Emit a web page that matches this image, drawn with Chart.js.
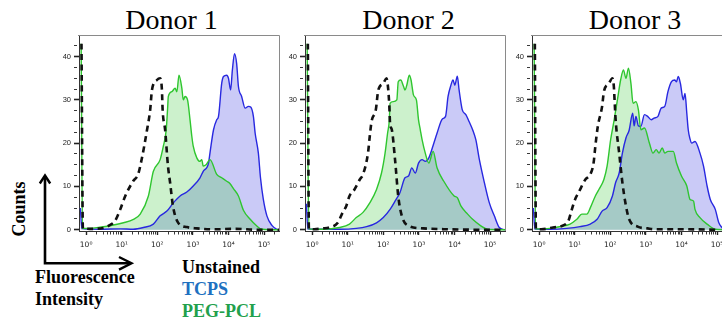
<!DOCTYPE html>
<html>
<head>
<meta charset="utf-8">
<script src="https://cdn.jsdelivr.net/npm/chart.js@4.4.1/dist/chart.umd.min.js"></script>
<style>
  html, body { margin: 0; padding: 0; background: #fff; }
  #wrap { position: relative; width: 722px; height: 321px; overflow: hidden; background: #fff; }
  canvas { position: absolute; }
  .title { position: absolute; top: 6px; width: 200px; text-align: center;
           font: 28px "Liberation Serif", serif; line-height: 28px; color: #000; white-space: nowrap; }
  .lbl { position: absolute; font: bold 18px "Liberation Serif", serif; line-height: 22px; white-space: nowrap; }
</style>
</head>
<body>
<div id="wrap">
  <svg style="position:absolute;left:0;top:0" width="722" height="321">
    <path d="M45 176 V263.3 H131" stroke="#000" stroke-width="2.6" fill="none"/>
    <path d="M39.8 183.5 L45 175.5 L50.2 183.5" stroke="#000" stroke-width="2.4" fill="none"/>
    <path d="M119 257 L131.5 263.3 L119 269.6" stroke="#000" stroke-width="2.4" fill="none"/>
  </svg>

  <div class="title" style="left:71.5px">Donor 1</div>
  <div class="title" style="left:308.5px">Donor 2</div>
  <div class="title" style="left:535px">Donor 3</div>

  <div class="lbl" style="left:-21px;top:198px;width:80px;height:22px;text-align:center;transform:rotate(-90deg);">Counts</div>
  <div class="lbl" style="left:35px;top:266px;">Fluorescence<br>Intensity</div>
  <div class="lbl" style="left:182px;top:256px;">
    <span style="color:#000">Unstained</span><br>
    <span style="color:#2070c0">TCPS</span><br>
    <span style="color:#22a04c">PEG-PCL</span>
  </div>

  <canvas id="donor1" width="234" height="230" style="left:49px;top:25px"></canvas>
  <canvas id="donor2" width="234" height="230" style="left:275px;top:25px"></canvas>
  <canvas id="donor3" width="234" height="230" style="left:502px;top:25px"></canvas>
</div>

<script>
// Axis labels: fluorescence in decades (log10 of intensity), counts per bin
const decadeTicks = [0, 1, 2, 3, 4, 5];
const decadeLabels = ['10⁰', '10¹', '10²', '10³', '10⁴', '10⁵'];
const countTicks = [0, 10, 20, 30, 40];

// Donor 1 histograms (x = log10 intensity, y = counts)
const donor1UnstainedX = [-0.13, -0.09, 0.11, 0.48, 0.65, 0.81, 0.96, 1.10, 1.32, 1.46, 1.56, 1.71, 1.80, 1.85, 1.99, 2.08, 2.13, 2.15, 2.22, 2.30, 2.36, 2.44, 2.58, 2.83, 3.11, 3.6, 4.2, 4.8, 5.42];
const donor1UnstainedY = [43, 0.3, 0.2, 0.4, 1, 2, 4.7, 7.8, 11.2, 12.8, 16.2, 23, 27.7, 32.3, 34.6, 35, 32.3, 27.7, 23.1, 14.7, 10.9, 5.5, 1.7, 0.6, 0.3, 0.1, 0.2, 0, 0];
const donor1TcpsX = [-0.16, -0.12, 0.39, 0.96, 1.32, 1.61, 1.89, 2.08, 2.27, 2.45, 2.64, 2.83, 3.01, 3.20, 3.29, 3.44, 3.48, 3.58, 3.67, 3.72, 3.81, 3.86, 3.95, 4.00, 4.06, 4.11, 4.17, 4.23, 4.28, 4.37, 4.47, 4.56, 4.63, 4.70, 4.75, 4.84, 4.90, 4.98, 5.08, 5.22, 5.36, 5.42];
const donor1TcpsY = [5, 0.3, 0.1, 0.2, 0.1, 0.5, 1.3, 3.2, 4.3, 6.2, 7.8, 8.7, 10.1, 12, 13.5, 15.4, 17.7, 23.1, 25.4, 26.2, 33.8, 35.4, 35.7, 35, 32.3, 36.9, 40.7, 38.4, 33.1, 30.8, 28.1, 28.5, 28.3, 26.2, 22.3, 17.7, 12, 7, 3.2, 1, 0.1, 0];
const donor1PegX = [-0.14, -0.1, 0.11, 0.39, 0.67, 1.05, 1.33, 1.52, 1.75, 1.89, 2.08, 2.17, 2.25, 2.29, 2.31, 2.41, 2.50, 2.55, 2.61, 2.69, 2.73, 2.78, 2.85, 2.92, 2.97, 3.01, 3.11, 3.20, 3.25, 3.29, 3.37, 3.48, 3.67, 3.81, 3.95, 4.04, 4.14, 4.28, 4.42, 4.61, 4.79, 4.94, 5.17, 5.42];
const donor1PegY = [43, 0.3, 0.3, 0.6, 0.9, 1.6, 2.4, 3.6, 7.8, 13.5, 16.2, 19.3, 23, 28, 30.8, 31.9, 32.7, 31.9, 35.7, 32.7, 30, 30.8, 30, 25.4, 21.6, 19.3, 16.6, 15.8, 16.2, 14.7, 15, 16.2, 12.8, 12, 11.2, 10.7, 9.5, 7.8, 4.5, 2.4, 0.9, 0.1, 0, 0];

// Donor 2 histograms
const donor2UnstainedX = [-0.12, -0.09, 0.06, 0.29, 0.48, 0.72, 0.86, 0.96, 1.05, 1.19, 1.34, 1.43, 1.57, 1.62, 1.67, 1.79, 1.86, 2.00, 2.09, 2.14, 2.17, 2.19, 2.24, 2.33, 2.42, 2.52, 2.71, 3.13, 3.8, 4.6, 5.42];
const donor2UnstainedY = [43, 0.2, 0.1, 0.3, 0.5, 1.6, 4, 5.5, 7.8, 9.3, 11.6, 12.8, 17.7, 21.6, 25, 27.7, 32.3, 33.8, 35, 32.3, 28.5, 24.6, 23.1, 16.2, 7.8, 3.2, 0.9, 0.3, 0.1, 0, 0];
const donor2TcpsX = [-0.16, -0.12, 0.77, 1.24, 1.53, 1.81, 2.00, 2.19, 2.33, 2.47, 2.61, 2.71, 2.80, 2.90, 2.99, 3.09, 3.18, 3.28, 3.42, 3.51, 3.66, 3.75, 3.82, 3.89, 3.96, 4.01, 4.08, 4.13, 4.22, 4.32, 4.41, 4.51, 4.60, 4.70, 4.84, 4.98, 5.12, 5.26, 5.41];
const donor2TcpsY = [6, 0.2, 0.1, 0.3, 0.7, 1.6, 2.8, 4.7, 6.6, 8.6, 12, 12.4, 14.3, 13.1, 15.4, 16.2, 15.8, 16.6, 20, 22.3, 25.6, 26.2, 30.8, 33.1, 34.6, 33.4, 35.5, 32.3, 27.7, 26.6, 25, 23.1, 20.8, 16.2, 10.9, 6.2, 3.2, 0.5, 0];
const donor2PegX = [-0.14, -0.09, 0.29, 0.77, 1.05, 1.24, 1.43, 1.62, 1.81, 1.95, 2.05, 2.12, 2.17, 2.19, 2.28, 2.38, 2.42, 2.49, 2.57, 2.61, 2.66, 2.73, 2.78, 2.85, 2.93, 2.99, 3.04, 3.09, 3.18, 3.28, 3.40, 3.51, 3.70, 3.99, 4.08, 4.18, 4.37, 4.51, 4.74, 4.93, 5.43];
const donor2PegY = [43, 0.2, 0.1, 0.5, 1.3, 2.8, 4, 6.2, 9.3, 13.1, 17.7, 22.3, 25.4, 29.2, 29.6, 30, 34.2, 34.6, 33.1, 32.3, 33.4, 35.7, 34.6, 31.1, 30, 25.4, 23.1, 20.8, 17.7, 15.4, 18.1, 14.3, 11.2, 7.8, 7.4, 5.5, 3.6, 2.4, 0.9, 0.1, 0];

// Donor 3 histograms
const donor3UnstainedX = [-0.12, -0.09, 0.06, 0.39, 0.68, 0.82, 0.92, 1.01, 1.11, 1.30, 1.44, 1.53, 1.58, 1.65, 1.77, 1.82, 1.96, 2.06, 2.10, 2.12, 2.15, 2.25, 2.34, 2.44, 2.53, 2.77, 3.05, 3.24, 4.0, 5.0];
const donor3UnstainedY = [43, 0.2, 0.1, 0.5, 1, 2, 4.7, 7, 8.6, 11.6, 12.8, 15.4, 19.3, 23.9, 28.5, 31.9, 33.8, 35, 33.1, 30, 25.4, 17.7, 10.9, 5.5, 2.4, 0.7, 0.3, 0.1, 0.1, 0];
const donor3TcpsX = [-0.16, -0.12, 0.30, 0.77, 1.15, 1.44, 1.63, 1.77, 1.91, 2.06, 2.15, 2.25, 2.34, 2.44, 2.53, 2.63, 2.67, 2.72, 2.79, 2.86, 2.96, 3.05, 3.15, 3.23, 3.34, 3.43, 3.53, 3.62, 3.72, 3.81, 3.86, 3.91, 3.97, 4.05, 4.10, 4.15, 4.19, 4.24, 4.29, 4.38, 4.52, 4.62, 4.72, 4.81, 4.95, 5.05, 5.14, 5.19, 5.43];
const donor3TcpsY = [5, 0.2, 0.1, 0.3, 0.7, 1.3, 2.4, 4.3, 5.1, 7.8, 10.9, 13.1, 17.7, 21.2, 23, 26.9, 24, 26.2, 24, 23.9, 26.6, 26.2, 25.4, 25.8, 26.2, 28.1, 28.5, 31.9, 34.2, 34.6, 34.2, 35.4, 33.8, 30, 31.5, 26.9, 23.1, 21, 20, 20.4, 17.7, 14.7, 10.1, 7, 4.7, 1.6, 0.5, 0.1, 0];
const donor3PegX = [-0.14, -0.1, 0.30, 0.58, 0.87, 1.06, 1.20, 1.34, 1.44, 1.58, 1.68, 1.82, 1.91, 2.01, 2.10, 2.20, 2.29, 2.37, 2.44, 2.51, 2.58, 2.64, 2.72, 2.79, 2.86, 2.96, 3.10, 3.20, 3.29, 3.37, 3.46, 3.53, 3.62, 3.77, 3.86, 4.00, 4.15, 4.24, 4.34, 4.38, 4.52, 4.72, 4.95, 5.42];
const donor3PegY = [43, 0.2, 0.3, 0.7, 1.3, 2.4, 3.6, 3.6, 5.1, 7.8, 9.3, 11.6, 14.7, 20.8, 25, 30, 34.6, 36.9, 35, 37.3, 33.8, 29.2, 29.6, 27.7, 23.1, 23.5, 20, 17.7, 18.5, 17.7, 18.9, 17.7, 18.1, 18.1, 15.4, 12.4, 10.1, 7, 6.6, 4.7, 2.8, 1.3, 0.1, 0];

const X_MIN = -0.2, X_MAX = 5.42;
const Y_MIN = -0.3, Y_MAX = 45;

// Tick marks: decades plus 2..9 sub-decades; counts every 2.5
const xTickValues = [];
for (let n = 0; n <= 5; n++) {
  for (let k = 1; k <= 9; k++) {
    const v = n + Math.log10(k);
    if (v <= X_MAX) xTickValues.push(v);
  }
}
const yTickValues = [];
for (let v = 0; v <= 42.5; v += 2.5) yTickValues.push(v);

const isDecade = v => Math.abs(v - Math.round(v)) < 1e-9;
const zip = (xs, ys) => xs.map((x, i) => ({ x, y: ys[i] }));

// Grey box on the top and right of each plot area
const framePlugin = {
  id: 'frame',
  afterDatasetsDraw(chart) {
    const { ctx, chartArea: a } = chart;
    ctx.save();
    ctx.strokeStyle = '#8a8a8a';
    ctx.lineWidth = 1;
    ctx.beginPath();
    ctx.moveTo(a.left - 1, a.top + 0.5);
    ctx.lineTo(a.right + 0.5, a.top + 0.5);
    ctx.lineTo(a.right + 0.5, a.bottom);
    ctx.stroke();
    ctx.restore();
  }
};

function makePanel(id, unX, unY, tcX, tcY, pgX, pgY) {
  new Chart(document.getElementById(id), {
    type: 'line',
    data: {
      datasets: [
        { label: 'Unstained', data: zip(unX, unY), order: 0,
          borderColor: '#111', borderWidth: 2.6, borderDash: [6, 4.5], fill: false,
          pointRadius: 0, cubicInterpolationMode: 'monotone' },
        { label: 'PEG-PCL', data: zip(pgX, pgY), order: 1,
          borderColor: '#2fc62f', borderWidth: 1.4, backgroundColor: 'rgba(50,200,50,0.25)', fill: 'origin',
          pointRadius: 0, cubicInterpolationMode: 'monotone' },
        { label: 'TCPS', data: zip(tcX, tcY), order: 2,
          borderColor: '#2828e0', borderWidth: 1.4, backgroundColor: 'rgba(60,60,225,0.27)', fill: 'origin',
          pointRadius: 0, cubicInterpolationMode: 'monotone' }
      ]
    },
    options: {
      responsive: false,
      animation: false,
      events: [],
      layout: { padding: { left: 0, top: 10, right: 4, bottom: 0 } },
      plugins: {
        legend: { display: false },
        tooltip: { enabled: false },
        filler: { drawTime: 'beforeDatasetsDraw' }
      },
      scales: {
        x: {
          type: 'linear', min: X_MIN, max: X_MAX,
          afterBuildTicks: s => { s.ticks = xTickValues.map(v => ({ value: v })); },
          afterFit: s => { s.height = 24; },
          ticks: {
            autoSkip: false, maxRotation: 0, minRotation: 0, padding: 6, color: '#222',
            font: { family: 'DejaVu Sans', size: 7.5 },
            callback: v => { const i = decadeTicks.findIndex(d => Math.abs(d - v) < 1e-9); return i >= 0 ? decadeLabels[i] : ''; }
          },
          grid: {
            drawOnChartArea: false, tickLength: 4, tickColor: '#222',
            tickWidth: c => (c.tick && isDecade(c.tick.value)) ? 1.4 : 0.9,
            tickBorderDash: c => (c.tick && isDecade(c.tick.value)) ? [] : [2.5, 20]
          },
          border: { color: '#333', width: 1 }
        },
        y: {
          type: 'linear', min: Y_MIN, max: Y_MAX,
          afterBuildTicks: s => { s.ticks = yTickValues.map(v => ({ value: v })); },
          afterFit: s => { s.width = 30; },
          ticks: {
            autoSkip: false, padding: 3, color: '#222',
            font: { family: 'Liberation Sans', size: 7.5 },
            callback: v => countTicks.includes(v) ? String(v) : ''
          },
          grid: {
            drawOnChartArea: false, tickLength: 5, tickColor: '#222',
            tickWidth: c => (c.tick && countTicks.includes(c.tick.value)) ? 1.6 : 0.9,
            tickBorderDash: c => (c.tick && countTicks.includes(c.tick.value)) ? [] : [3, 20]
          },
          border: { color: '#333', width: 1 }
        }
      }
    },
    plugins: [framePlugin]
  });
}

makePanel('donor1', donor1UnstainedX, donor1UnstainedY, donor1TcpsX, donor1TcpsY, donor1PegX, donor1PegY);
makePanel('donor2', donor2UnstainedX, donor2UnstainedY, donor2TcpsX, donor2TcpsY, donor2PegX, donor2PegY);
makePanel('donor3', donor3UnstainedX, donor3UnstainedY, donor3TcpsX, donor3TcpsY, donor3PegX, donor3PegY);
</script>
</body>
</html>
